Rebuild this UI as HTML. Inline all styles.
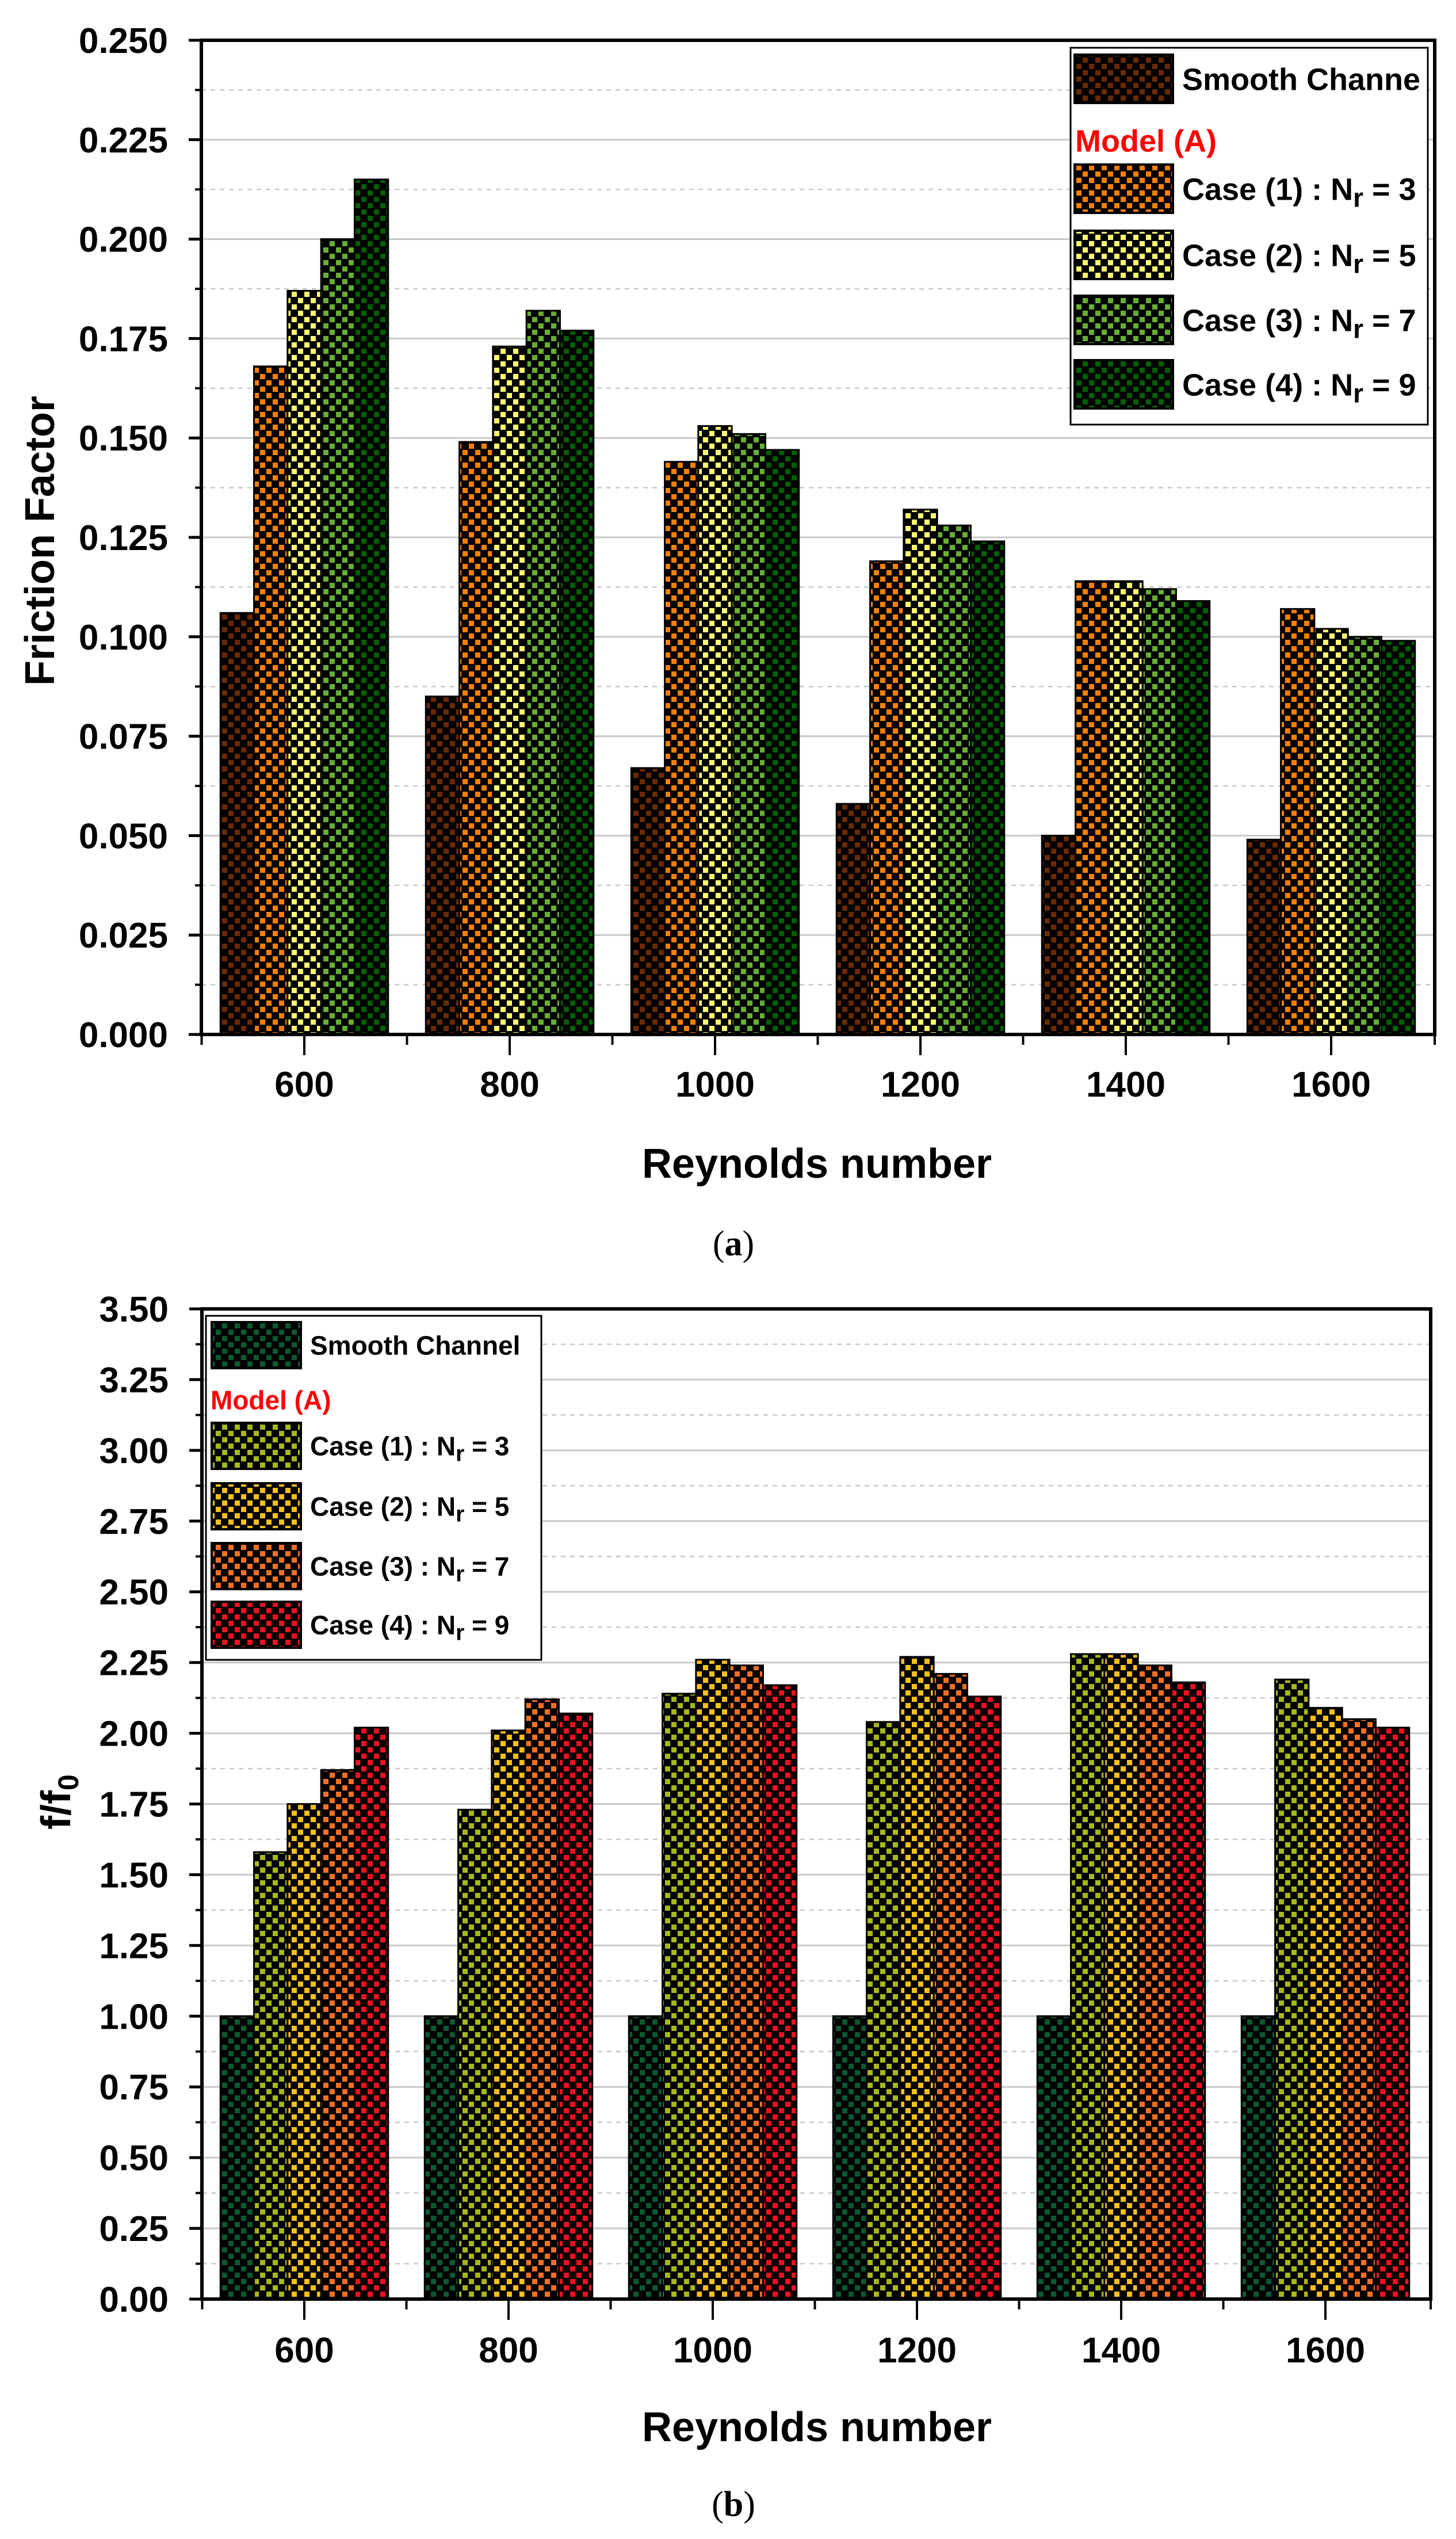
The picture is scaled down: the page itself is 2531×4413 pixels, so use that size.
<!DOCTYPE html>
<html><head><meta charset="utf-8"><style>
html,body{margin:0;padding:0;background:#fff;}
svg{display:block;font-family:"Liberation Sans",Arial,sans-serif;}
</style></head><body>
<svg id="svg" width="2531" height="4413" viewBox="0 0 2531 4413" xmlns="http://www.w3.org/2000/svg">
<defs id="defs"></defs>
<g id="chartA"></g>
<g id="chartB"></g>
<text x="1275" y="2182" font-family="Liberation Serif, serif" font-size="62" text-anchor="middle">(<tspan font-weight="bold">a</tspan>)</text>
<text x="1275" y="4373" font-family="Liberation Serif, serif" font-size="62" text-anchor="middle">(<tspan font-weight="bold">b</tspan>)</text>
</svg>
<script>
const categories = [600, 800, 1000, 1200, 1400, 1600];
const seriesNames = ["Smooth Channel", "Case (1) : N", "Case (2) : N", "Case (3) : N", "Case (4) : N"];
const seriesSubs = ["", "3", "5", "7", "9"];
const aSmooth = [0.106, 0.085, 0.067, 0.058, 0.050, 0.049];
const aCase1 = [0.168, 0.149, 0.144, 0.119, 0.114, 0.107];
const aCase2 = [0.187, 0.173, 0.153, 0.132, 0.114, 0.102];
const aCase3 = [0.200, 0.182, 0.151, 0.128, 0.112, 0.100];
const aCase4 = [0.215, 0.177, 0.147, 0.124, 0.109, 0.099];
const aTicks = ["0.000","0.025","0.050","0.075","0.100","0.125","0.150","0.175","0.200","0.225","0.250"];
const bSmooth = [1, 1, 1, 1, 1, 1];
const bCase1 = [1.58, 1.73, 2.14, 2.04, 2.28, 2.19];
const bCase2 = [1.75, 2.01, 2.26, 2.27, 2.28, 2.09];
const bCase3 = [1.87, 2.12, 2.24, 2.21, 2.24, 2.05];
const bCase4 = [2.02, 2.07, 2.17, 2.13, 2.18, 2.02];
const bTicks = ["0.00","0.25","0.50","0.75","1.00","1.25","1.50","1.75","2.00","2.25","2.50","2.75","3.00","3.25","3.50"];

const NS = "http://www.w3.org/2000/svg";
function mk(tag, attrs, parent){const e=document.createElementNS(NS,tag);for(const k in attrs)e.setAttribute(k,attrs[k]);parent.appendChild(e);return e;}
const defs=document.getElementById('defs');
function pattern(id,color){
  const p=mk('pattern',{id:id,width:22,height:22,patternUnits:'userSpaceOnUse'},defs);
  mk('rect',{x:0,y:0,width:22,height:22,fill:'#000'},p);
  mk('rect',{x:1,y:1,width:9,height:9,fill:color},p);
  mk('rect',{x:12,y:12,width:9,height:9,fill:color},p);
}
const colsA=['#6b2a00','#ff8000','#ffff70','#66b032','#006000'];
const colsB=['#0a5a30','#a8b818','#f8c018','#f87020','#f01020'];
colsA.forEach((c,i)=>pattern('pa'+i,c));
colsB.forEach((c,i)=>pattern('pb'+i,c));

function drawChart(g, o){
  const L=o.left,R=o.right,T=o.top,B=o.bottom;
  const ymax=o.ymax;
  const y=v=>B-(v/ymax)*(B-T);
  const step=(o.cat2-o.cat1);
  const x=c=>o.cat1+(c-600)/200*step;
  const nT=o.ticks.length-1;
  // grid
  for(let i=0;i<=nT;i++){
    const v=ymax*i/nT;
    if(i>0&&i<nT){const gl=mk('line',{x1:L,x2:R,y1:y(v),y2:y(v),stroke:'#c8c8c8','stroke-width':3},g);
    
    }
    if(i<nT){const vm=v+ymax/nT/2;const gm=mk('line',{x1:L,x2:R,y1:y(vm),y2:y(vm),stroke:'#c8c8c8','stroke-width':2.5,'stroke-dasharray':'8 8'},g);
    
    
    mk('line',{x1:L-11,x2:L,y1:y(vm),y2:y(vm),stroke:'#000','stroke-width':4},g);}
    mk('line',{x1:L-22,x2:L,y1:y(v),y2:y(v),stroke:'#000','stroke-width':5},g);
    const t=mk('text',{x:L-58,y:y(v)+22,'font-size':62,'font-weight':'bold','text-anchor':'end'},g);
    t.textContent=o.ticks[i];
    
    
  }
  // bars
  const bw=58.3;
  o.series.forEach((arr,s)=>{
    arr.forEach((v,i)=>{
      const cx=x(categories[i]);
      const bx=cx-2.5*bw+s*bw;
      const r=mk('rect',{x:bx,y:y(v),width:bw,height:B-y(v),fill:'url(#'+o.pat+s+')',stroke:'#000','stroke-width':3},g);
      
      
    });
  });
  // x ticks
  categories.forEach((c,i)=>{
    mk('line',{x1:x(c),x2:x(c),y1:B,y2:B+36,stroke:'#000','stroke-width':4},g);
    mk('line',{x1:x(c)-step/2,x2:x(c)-step/2,y1:B,y2:B+18,stroke:'#000','stroke-width':4},g);
    const t=mk('text',{x:x(c),y:o.xlabY,'font-size':62,'font-weight':'bold','text-anchor':'middle'},g);
    t.textContent=c;
    
    
  });
  mk('line',{x1:R,x2:R,y1:B,y2:B+18,stroke:'#000','stroke-width':4},g);
  // axes frame
  const fr=mk('rect',{x:L,y:T,width:R-L,height:B-T,fill:'none',stroke:'#000','stroke-width':6},g);
  
  
  const xt=mk('text',{x:1420,y:o.xTitleY,'font-size':72,'font-weight':'bold','text-anchor':'middle'},g);
  xt.textContent='Reynolds number';
  
  
  // legend
  const lg=mk('g',{},g);
  
  
  const Lo=o.leg;
  mk('rect',{x:Lo.x,y:Lo.y,width:Lo.w,height:Lo.h,fill:'#fff',stroke:'#000','stroke-width':3},lg);
  Lo.rows.forEach((ry,s)=>{
    const sw=mk('rect',{x:Lo.sx,y:ry-Lo.sh/2,width:Lo.sw,height:Lo.sh,fill:'url(#'+o.pat+s+')',stroke:'#000','stroke-width':4},lg);
    
    
    const t=mk('text',{x:Lo.tx,y:ry+Lo.fs*0.36,'font-size':Lo.fs,'font-weight':'bold'},lg);
    
    
    if(s===0){t.textContent=Lo.smoothText;}
    else{
      t.appendChild(document.createTextNode(seriesNames[s]));
      const sub=mk('tspan',{dy:Lo.fs*0.22,'font-size':Lo.fs*0.85},t);sub.textContent='r';
      const rest=mk('tspan',{dy:-Lo.fs*0.22},t);rest.textContent=' = '+seriesSubs[s];
    }
  });
  const m=mk('text',{x:Lo.x+8,y:Lo.modelY+Lo.fs*0.36,'font-size':Lo.fs,'font-weight':'bold',fill:'#ff0000'},lg);
  m.textContent='Model (A)';
  
  
}

drawChart(document.getElementById('chartA'),{
  left:350,right:2494,top:70,bottom:1798,ymax:0.25,cat1:529,cat2:886,
  ticks:aTicks,series:[aSmooth,aCase1,aCase2,aCase3,aCase4],pat:'pa',
  xlabY:1906,xTitleY:2047,
  leg:{x:1861,y:83,w:621,h:655,sx:1868,sw:171,sh:84,tx:2055,fs:54,
    rows:[137,328,443,556,668],modelY:244,smoothText:'Smooth Channe'}
});
drawChart(document.getElementById('chartB'),{
  left:351,right:2487,top:2275,bottom:3996,ymax:3.5,cat1:529,cat2:884,
  ticks:bTicks,series:[bSmooth,bCase1,bCase2,bCase3,bCase4],pat:'pb',
  xlabY:4106,xTitleY:4243,
  leg:{x:358,y:2287,w:583,h:598,sx:368,sw:155,sh:80,tx:539,fs:46,
    rows:[2338,2513,2618,2722,2824],modelY:2433,smoothText:'Smooth Channel'}
});
// y titles
const ya=mk('text',{x:0,y:0,'font-size':72,'font-weight':'bold','text-anchor':'middle',transform:'translate(94,940) rotate(-90)'},document.getElementById('chartA'));
ya.textContent='Friction Factor';


const yb=mk('text',{x:0,y:0,'font-size':72,'font-weight':'bold','text-anchor':'middle',transform:'translate(122,3132) rotate(-90)'},document.getElementById('chartB'));
yb.appendChild(document.createTextNode('f/f'));
const s0=mk('tspan',{dy:14,'font-size':50},yb);s0.textContent='0';


</script>
</body></html>
